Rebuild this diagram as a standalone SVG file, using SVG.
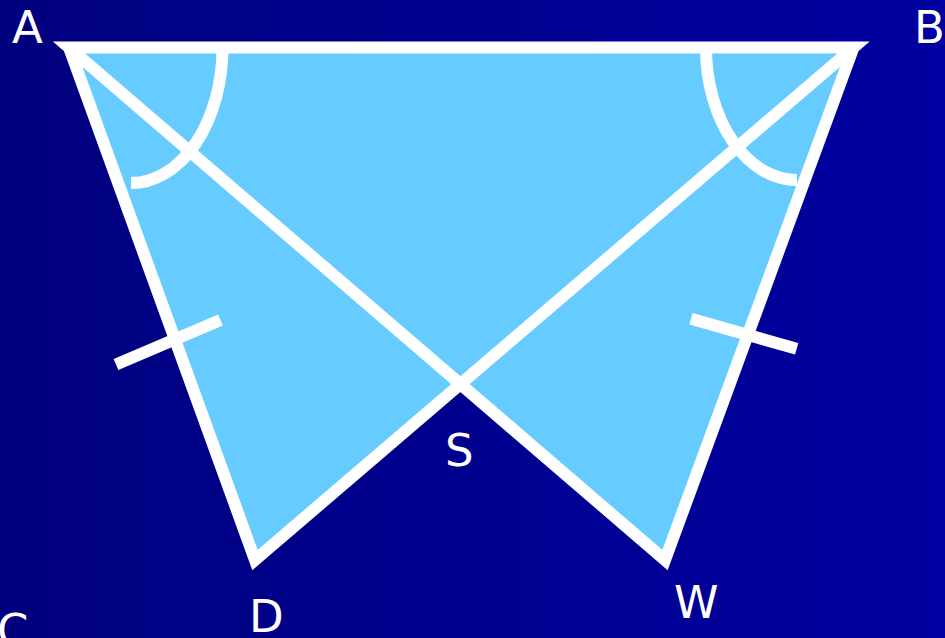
<svg xmlns="http://www.w3.org/2000/svg" width="945" height="638" viewBox="0 0 945 638">
  <defs>
    <linearGradient id="bg" x1="0" y1="0" x2="1" y2="0">
      <stop offset="0" stop-color="#00007E"/>
      <stop offset="1" stop-color="#0000A0"/>
    </linearGradient>
    <style>
      .ln { fill: none; stroke: #FFFFFF; stroke-width: 12; stroke-linejoin: miter; stroke-linecap: butt; }
      .lbl { fill: #FFFFFF; font-family: "DejaVu Sans", "Liberation Sans", sans-serif; font-size: 45px; }
    </style>
  </defs>
  <rect x="0" y="0" width="945" height="638" fill="url(#bg)"/>
  <g id="figure">
    <polygon points="69,47.5 853.5,47.5 665,560 460.4,384.1 255,560" fill="#66CCFF"/>
  </g>
  <g id="connectors">
    <path class="ln" d="M69,47.5 L255,560 L853.5,47.5 L69,47.5 L665,560 L853.5,47.5"/>
    <path class="ln" d="M222.5,47.5 A91.5 135.5 0 0 1 131,183"/>
    <path class="ln" d="M706,47.5 A91 132.5 0 0 0 797,180"/>
    <line class="ln" x1="116" y1="364.5" x2="220.5" y2="320"/>
    <line class="ln" x1="691" y1="318.7" x2="796.7" y2="348.8"/>
  </g>
  <g id="label-A"><text class="lbl" x="12" y="43">A</text></g>
  <g id="label-B"><text class="lbl" x="914" y="43">B</text></g>
  <g id="label-C"><text class="lbl" x="-3" y="646">C</text></g>
  <g id="label-D"><text class="lbl" x="249" y="632">D</text></g>
  <g id="label-S"><text class="lbl" x="445" y="466">S</text></g>
  <g id="label-W"><text class="lbl" x="674" y="618">W</text></g>
</svg>
